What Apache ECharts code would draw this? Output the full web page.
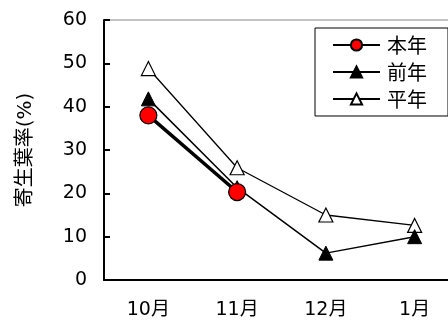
<!DOCTYPE html>
<html><head><meta charset="utf-8">
<script src="https://cdn.jsdelivr.net/npm/echarts@6/dist/echarts.min.js"></script>
<style>html,body{margin:0;padding:0;background:#fff}#c{width:448px;height:322px}</style>
</head><body><div id="c"></div>
<script>
const categories = ['10月', '11月', '12月', '1月'];
const honnen = [38, 20.3];
const zennen = [41.8, 21.3, 6.2, 10];
const heinen = [48.8, 25.9, 15, 12.6];
const yTicks = [0, 10, 20, 30, 40, 50, 60];

const FONT = '"DejaVu Sans", "Noto Sans CJK JP", sans-serif';
const CJK = '"Noto Sans CJK JP", sans-serif';
const chart = echarts.init(document.getElementById('c'));
chart.setOption({
  animation: false,
  grid: { left: 104, top: 20, bottom: 42, right: -11, outerBoundsMode: 'none', containLabel: false,
          show: true, borderColor: '#888', borderWidth: 1 },
  legend: {
    right: 0, top: 28, orient: 'vertical',
    data: ['本年', '前年', '平年'],
    itemWidth: 47, itemHeight: 14, itemGap: 7,
    padding: [7, 21, 7, 17],
    borderColor: '#000', borderWidth: 1, backgroundColor: '#fff',
    textStyle: { fontFamily: CJK, fontSize: 20, color: '#000', padding: [0, 0, 0, 2] }
  },
  xAxis: {
    type: 'category', data: categories, boundaryGap: true,
    axisLine: { lineStyle: { color: '#000', width: 2 } },
    axisTick: { inside: true, length: 6, lineStyle: { color: '#000', width: 2 } },
    axisLabel: { margin: 21, fontFamily: FONT, fontSize: 19, color: '#000' }
  },
  yAxis: {
    type: 'value', min: 0, max: 60, interval: 10,
    name: '寄生葉率(%)', nameLocation: 'middle', nameGap: 68, nameRotate: 90,
    nameTextStyle: { fontFamily: FONT, fontSize: 20, color: '#000' },
    splitLine: { show: false },
    axisLine: { show: true, lineStyle: { color: '#000', width: 2 } },
    axisTick: { show: true, inside: true, length: 6, lineStyle: { color: '#000', width: 2 } },
    axisLabel: { margin: 17, fontFamily: FONT, fontSize: 19, color: '#000',
      formatter: v => yTicks.includes(v) ? String(v) : '' }
  },
  series: [
    { name: '平年', type: 'line', data: heinen, symbol: 'triangle', symbolSize: 14,
      itemStyle: { color: '#fff', borderColor: '#000', borderWidth: 1.2 },
      lineStyle: { color: '#000', width: 1.3 }, z: 2 },
    { name: '前年', type: 'line', data: zennen, symbol: 'triangle', symbolSize: 14,
      itemStyle: { color: '#000', borderColor: '#000', borderWidth: 1 },
      lineStyle: { color: '#000', width: 1.5 }, z: 3 },
    { name: '本年', type: 'line', data: honnen, symbol: 'circle', symbolSize: 17,
      itemStyle: { color: '#ff0000', borderColor: '#000', borderWidth: 1.2 },
      lineStyle: { color: '#000', width: 3.5 }, z: 4 }
  ]
});
</script></body></html>
